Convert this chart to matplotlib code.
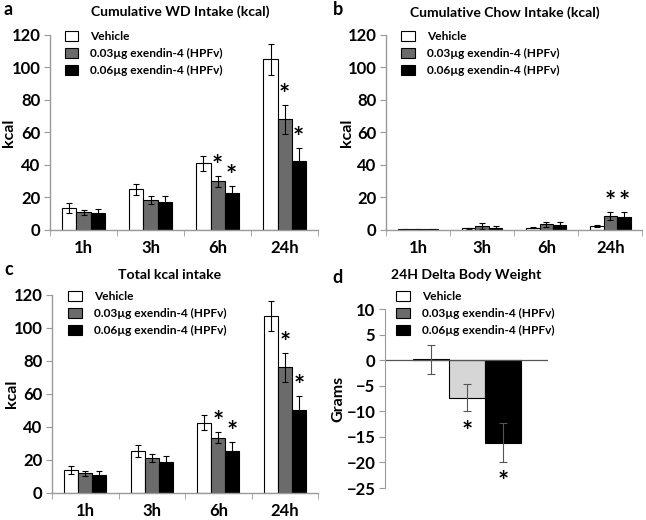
import numpy as np
import matplotlib
matplotlib.use("Agg")
import matplotlib.pyplot as plt
from matplotlib.patches import Patch

plt.rcParams['font.family'] = ['Lato', 'DejaVu Sans']
plt.rcParams['font.weight'] = 'bold'

times = ['1h', '3h', '6h', '24h']
groups = ['Vehicle', '0.03µg exendin-4 (HPFv)', '0.06µg exendin-4 (HPFv)']

# a: cumulative WD intake
wd_mean = [[13.5, 25, 41, 105], [11, 18.5, 30, 68], [10.5, 17.5, 22.5, 42.5]]
wd_err = [[3, 3.5, 4.5, 9.5], [1.5, 2.5, 3.5, 9], [2.5, 3.5, 4.5, 8]]
wd_star = [[], [2, 3], [2, 3]]

# b: cumulative chow intake
chow_mean = [[0.5, 1, 1.5, 2.5], [0.5, 2.5, 3.5, 8.5], [0.5, 1.5, 3, 8]]
chow_err = [[0.2, 0.3, 0.3, 0.5], [0.3, 2, 1.5, 2.5], [0.2, 1, 2, 3]]
chow_star = [[], [3], [3]]

# c: total kcal
tot_mean = [[14, 25.5, 42.5, 107], [12, 21, 33.5, 76], [11, 19, 25.5, 50]]
tot_err = [[2.5, 3.5, 4.5, 9], [1.5, 2.5, 3.5, 9], [2.5, 3.5, 5.5, 9]]
tot_star = [[], [2, 3], [2, 3]]

# d: 24h delta body weight
bw_mean = [0.2, -7.3, -16.1]
bw_err = [2.8, 2.7, 3.8]
bw_star = [False, True, True]

colors = ['white', '#6b6b6b', 'black']
d_colors = ['white', '#d6d6d6', 'black']
spine_col = '#9a9a9a'

fig = plt.figure(figsize=(6.46, 5.2), dpi=100)

tick_fs = 12
leg_fs = 8.6
title_fs = 10.1


def legend_handles():
    return [Patch(facecolor=c, edgecolor='black', linewidth=0.8) for c in colors]


def add_legend(ax, lx, ly):
    ax.legend(legend_handles(), groups, loc='upper left', bbox_to_anchor=(lx, ly),
              frameon=False, fontsize=leg_fs, handlelength=1.15, handleheight=0.85,
              handletextpad=1.0, labelspacing=0.5, borderpad=0, borderaxespad=0)


def intake_panel(rect, means, errs, stars, title, letter, lx, ly, tx, ty, leg_x, leg_y):
    ax = fig.add_axes(rect)
    x = np.arange(len(times))
    w = 0.21
    for i in range(3):
        ax.bar(x + (i - 1) * w, means[i], w, color=colors[i], edgecolor='black',
               linewidth=0.8, yerr=errs[i], capsize=2.5,
               error_kw=dict(elinewidth=0.8, capthick=0.8, ecolor='black'))
        for j in stars[i]:
            ax.text(x[j] + (i - 1) * w, means[i][j] + errs[i][j] + 6, '*',
                    ha='center', va='center', fontsize=19, fontweight='bold')
    ax.set_xlim(-0.5, 3.5)
    ax.set_ylim(0, 120)
    ax.set_yticks(range(0, 121, 20))
    ax.set_xticks(x)
    ax.set_xticklabels(times)
    ax.set_xticks(np.arange(-0.5, 3.6, 1), minor=True)
    ax.tick_params(axis='x', which='major', length=0, pad=7, labelsize=tick_fs)
    ax.tick_params(axis='x', which='minor', length=4, color=spine_col, direction='out')
    ax.tick_params(axis='y', length=4, color=spine_col, labelsize=tick_fs, pad=3)
    for s in ['top', 'right']:
        ax.spines[s].set_visible(False)
    for s in ['left', 'bottom']:
        ax.spines[s].set_color(spine_col)
        ax.spines[s].set_linewidth(1.0)
    ax.set_ylabel('kcal', fontsize=11.5, fontweight='bold')
    ax.yaxis.set_label_coords(-0.125, 0.5)
    add_legend(ax, leg_x, leg_y)
    fig.text(lx, ly, letter, fontsize=13, fontweight='bold', ha='left', va='center')
    fig.text(tx, ty, title, fontsize=title_fs, fontweight='bold', ha='center', va='center')
    return ax


intake_panel([0.0774, 0.5577, 0.415, 0.375], wd_mean, wd_err, wd_star,
             'Cumulative WD Intake (kcal)', 'a', 0.006, 0.981, 0.279, 0.977, 0.055, 1.02)
intake_panel([0.5975, 0.5577, 0.397, 0.375], chow_mean, chow_err, chow_star,
             'Cumulative Chow Intake (kcal)', 'b', 0.515, 0.981, 0.782, 0.975, 0.06, 1.02)
intake_panel([0.0805, 0.052, 0.412, 0.381], tot_mean, tot_err, tot_star,
             'Total kcal intake', 'c', 0.006, 0.481, 0.263, 0.471, 0.06, 1.02)

# d panel
ax = fig.add_axes([0.596, 0.0615, 0.252, 0.344])
xd = np.arange(3)
for i in range(3):
    ax.bar(xd[i], bw_mean[i], 1.0, color=d_colors[i], edgecolor='black', linewidth=0.8)
    ax.errorbar(xd[i], bw_mean[i], yerr=bw_err[i], color='#555555', elinewidth=0.8,
                capsize=3, capthick=0.8)
    if bw_star[i]:
        ax.text(xd[i], bw_mean[i] - bw_err[i] - 4, '*', ha='center', va='center',
                fontsize=19, fontweight='bold')
ax.axhline(0, color='#555555', linewidth=0.9)
ax.set_xlim(-1.28, 3.25)
ax.set_ylim(-25, 10)
ax.set_yticks(range(-25, 11, 5))
ax.set_xticks([])
ax.tick_params(axis='y', length=4, color=spine_col, labelsize=tick_fs, pad=3)
for s in ['top', 'right', 'bottom']:
    ax.spines[s].set_visible(False)
ax.spines['left'].set_color(spine_col)
ax.set_ylabel('Grams', fontsize=11.5, fontweight='bold')
ax.yaxis.set_label_coords(-0.245, 0.5)
add_legend(ax, 0.07, 1.1)
fig.text(0.515, 0.467, 'd', fontsize=13, fontweight='bold', ha='left', va='center')
fig.text(0.722, 0.471, '24H Delta Body Weight', fontsize=title_fs, fontweight='bold',
         ha='center', va='center')

fig.savefig('out.png', dpi=100)
